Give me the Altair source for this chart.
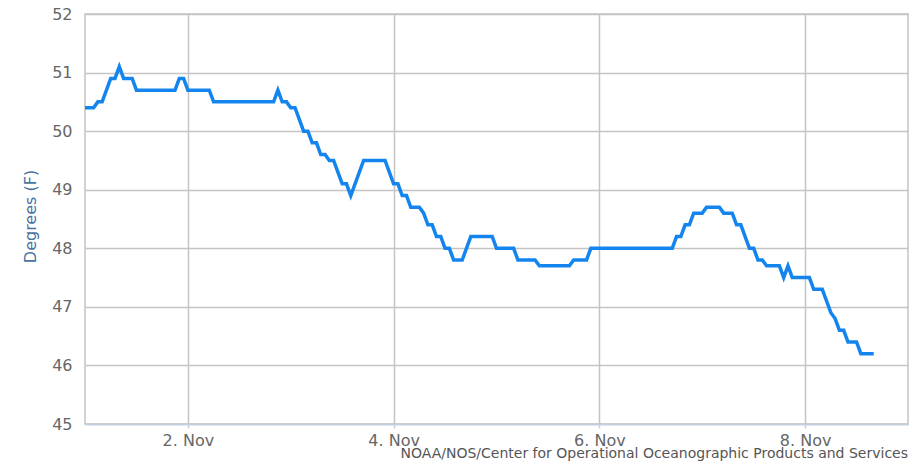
import altair as alt
import pandas as pd

# ---- data ----
times = [
    "11-01 00:00", "11-01 02:00", "11-01 03:00", "11-01 04:00", "11-01 06:00", "11-01 07:00",
    "11-01 08:00", "11-01 09:00", "11-01 11:00", "11-01 12:00", "11-01 21:00", "11-01 22:00",
    "11-01 23:00", "11-02 00:00", "11-02 05:00", "11-02 06:00", "11-02 20:00", "11-02 21:00",
    "11-02 22:00", "11-02 23:00", "11-03 00:00", "11-03 01:00", "11-03 03:00", "11-03 04:00",
    "11-03 05:00", "11-03 06:00", "11-03 07:00", "11-03 08:00", "11-03 09:00", "11-03 10:00",
    "11-03 11:00", "11-03 12:00", "11-03 13:00", "11-03 14:00", "11-03 17:00", "11-03 22:00",
    "11-04 00:00", "11-04 01:00", "11-04 02:00", "11-04 03:00", "11-04 04:00", "11-04 06:00",
    "11-04 07:00", "11-04 08:00", "11-04 09:00", "11-04 10:00", "11-04 11:00", "11-04 12:00",
    "11-04 13:00", "11-04 14:00", "11-04 16:00", "11-04 18:00", "11-04 23:00", "11-05 00:00",
    "11-05 04:00", "11-05 05:00", "11-05 09:00", "11-05 10:00", "11-05 17:00", "11-05 18:00",
    "11-05 21:00", "11-05 22:00", "11-06 17:00", "11-06 18:00", "11-06 19:00", "11-06 20:00",
    "11-06 21:00", "11-06 22:00", "11-07 00:00", "11-07 01:00", "11-07 04:00", "11-07 05:00",
    "11-07 07:00", "11-07 08:00", "11-07 09:00", "11-07 10:00", "11-07 11:00", "11-07 12:00",
    "11-07 13:00", "11-07 14:00", "11-07 15:00", "11-07 18:00", "11-07 19:00", "11-07 20:00",
    "11-07 21:00", "11-08 01:00", "11-08 02:00", "11-08 04:00", "11-08 05:00", "11-08 06:00",
    "11-08 07:00", "11-08 08:00", "11-08 09:00", "11-08 10:00", "11-08 12:00", "11-08 13:00",
    "11-08 16:00",
]
temps = [
    50.4, 50.4, 50.5, 50.5, 50.9, 50.9,
    51.1, 50.9, 50.9, 50.7, 50.7, 50.9,
    50.9, 50.7, 50.7, 50.5, 50.5, 50.7,
    50.5, 50.5, 50.4, 50.4, 50.0, 50.0,
    49.8, 49.8, 49.6, 49.6, 49.5, 49.5,
    49.3, 49.1, 49.1, 48.9, 49.5, 49.5,
    49.1, 49.1, 48.9, 48.9, 48.7, 48.7,
    48.6, 48.4, 48.4, 48.2, 48.2, 48.0,
    48.0, 47.8, 47.8, 48.2, 48.2, 48.0,
    48.0, 47.8, 47.8, 47.7, 47.7, 47.8,
    47.8, 48.0, 48.0, 48.2, 48.2, 48.4,
    48.4, 48.6, 48.6, 48.7, 48.7, 48.6,
    48.6, 48.4, 48.4, 48.2, 48.0, 48.0,
    47.8, 47.8, 47.7, 47.7, 47.5, 47.7,
    47.5, 47.5, 47.3, 47.3, 47.1, 46.9,
    46.8, 46.6, 46.6, 46.4, 46.4, 46.2,
    46.2,
]
year = 2023
domain_days = [1, 9]
x_tick_days = [2, 4, 6, 8]
y_ticks = [45, 46, 47, 48, 49, 50, 51, 52]
y_title = "Degrees (F)"
credit = "NOAA/NOS/Center for Operational Oceanographic Products and Services"

df = pd.DataFrame({
    "time": [f"{year}-{t.replace(' ', 'T')}:00Z" for t in times],
    "temp": temps,
})
cred_df = pd.DataFrame({"c": [credit]})

W, H = 823, 410
FONT = "DejaVu Sans"

x_axis = alt.Axis(
    values=[alt.DateTime(year=year, month=11, date=d, utc=True) for d in x_tick_days],
    labelExpr="utcFormat(datum.value, '%-d. %b')",
    title=None,
    grid=True, gridColor="#C4C4C4", gridWidth=1.5,
    domainColor="#C0D0E0", domainWidth=1.5,
    tickColor="#C0D0E0", tickSize=4, tickWidth=1.5,
    labelPadding=4, labelFontSize=16, labelColor="#666666", labelFont=FONT,
    labelFlush=False, labelOverlap=False,
)
y_axis = alt.Axis(
    values=y_ticks, title=y_title,
    grid=True, gridColor="#C4C4C4", gridWidth=1.5,
    domain=False, ticks=False, labelPadding=13,
    labelFontSize=16, labelColor="#666666", labelFont=FONT,
    titleFont=FONT, titleFontSize=16, titleFontWeight="normal", titleColor="#4a73a0",
    titleAngle=270, titleX=-55, titleY=202, titleAlign="center", titleBaseline="middle",
)

line = alt.Chart(df).mark_line(color="#1485ee", strokeWidth=3.5).encode(
    x=alt.X("time:T", axis=x_axis, scale=alt.Scale(
        type="utc",
        domain=[alt.DateTime(year=year, month=11, date=d, utc=True) for d in domain_days])),
    y=alt.Y("temp:Q", axis=y_axis, scale=alt.Scale(domain=[y_ticks[0], y_ticks[-1]], nice=False, zero=False)),
)

cred = alt.Chart(cred_df).mark_text(
    align="right", baseline="alphabetic", fontSize=14, font=FONT, color="#555555"
).encode(text="c:N", x=alt.value(W), y=alt.value(444))

chart = alt.layer(line, cred).properties(
    width=W, height=H,
    autosize=alt.AutoSizeParams(type="none"),
    padding={"left": 77, "top": 6, "right": 7, "bottom": 39},
).configure_view(stroke="#C4C4C4", strokeWidth=1.5)

chart.save("out.html", embed_options={"renderer": "svg", "actions": False})
